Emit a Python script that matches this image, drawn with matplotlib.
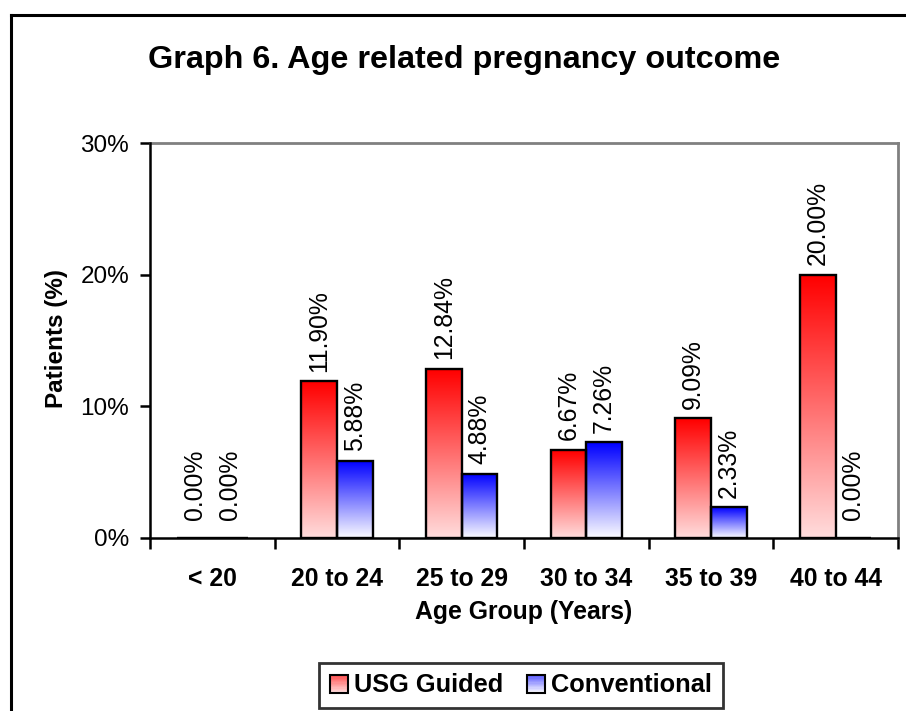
import numpy as np
import matplotlib
matplotlib.use("Agg")
import matplotlib.pyplot as plt
from matplotlib.patches import Rectangle, Patch
from matplotlib.lines import Line2D
from matplotlib.legend_handler import HandlerBase
from matplotlib.ticker import FuncFormatter, FixedLocator

plt.rcParams['font.family'] = ['Liberation Sans', 'DejaVu Sans']

categories = ['< 20', '20 to 24', '25 to 29', '30 to 34', '35 to 39', '40 to 44']
usg_guided = [0.00, 11.90, 12.84, 6.67, 9.09, 20.00]
conventional = [0.00, 5.88, 4.88, 7.26, 2.33, 0.00]
series_names = ['USG Guided', 'Conventional']
y_ticks = [0, 10, 20, 30]

RED_TOP = np.array([1.0, 0.0, 0.0])
RED_BOTTOM = np.array([1.0, 0.86, 0.86])
BLUE_TOP = np.array([0.0, 0.0, 1.0])
BLUE_BOTTOM = np.array([0.98, 0.98, 1.0])

W, H = 906, 711
fig = plt.figure(figsize=(W / 100, H / 100), dpi=100)
fig.patch.set_facecolor('white')

# outer chart border (left and top edges)
fig.add_artist(Line2D([11 / W, 11 / W], [0, 1 - 15 / H], color='black', lw=2.2,
                      transform=fig.transFigure))
fig.add_artist(Line2D([11 / W, 1.0], [1 - 15 / H, 1 - 15 / H], color='black', lw=2.2,
                      transform=fig.transFigure))

ax = fig.add_axes([150 / W, 1 - 538 / H, (898 - 150) / W, (538 - 143) / H])

x = np.arange(len(categories))
bw = 1 / 3.5

bars_usg = ax.bar(x - bw / 2, usg_guided, bw, facecolor='none', edgecolor='black',
                  linewidth=1.7, zorder=3)
bars_conv = ax.bar(x + bw / 2, conventional, bw, facecolor='none', edgecolor='black',
                   linewidth=1.7, zorder=3)


def fill_gradient(bars, top, bottom):
    n = 64
    t = np.linspace(0, 1, n)[:, None]
    grad = (bottom[None, :] * (1 - t) + top[None, :] * t)[:, None, :]
    for b in bars:
        h = b.get_height()
        if h <= 0:
            continue
        x0 = b.get_x()
        ax.imshow(grad, extent=[x0, x0 + b.get_width(), 0, h], origin='lower',
                  aspect='auto', interpolation='bilinear', zorder=2)


fill_gradient(bars_usg, RED_TOP, RED_BOTTOM)
fill_gradient(bars_conv, BLUE_TOP, BLUE_BOTTOM)

for bars, vals in ((bars_usg, usg_guided), (bars_conv, conventional)):
    for b, v in zip(bars, vals):
        off = 13 if v == 0 else 7
        ax.annotate(f"{v:.2f}%", (b.get_x() + b.get_width() / 2, v),
                    xytext=(0, off), textcoords='offset points', rotation=90,
                    ha='center', va='bottom', fontsize=17.8, zorder=4)

ax.set_xlim(-0.5, len(categories) - 0.5)
ax.set_ylim(0, 30)

ax.xaxis.set_major_locator(FixedLocator(np.arange(len(categories) + 1) - 0.5))
ax.xaxis.set_minor_locator(FixedLocator(x))
ax.set_xticklabels([], minor=False)
ax.set_xticklabels(categories, minor=True, fontweight='bold', fontsize=17.8)
ax.tick_params(axis='x', which='major', direction='out', length=8, width=1.8, color='black')
ax.tick_params(axis='x', which='minor', length=0, pad=21)

ax.set_yticks(y_ticks)
ax.yaxis.set_major_formatter(FuncFormatter(lambda v, p: f"{int(v)}%"))
ax.tick_params(axis='y', direction='out', length=7, width=1.8, color='black',
               labelsize=17.5, pad=8)

for side in ('left', 'bottom'):
    ax.spines[side].set_color('black')
    ax.spines[side].set_linewidth(1.8)
    ax.spines[side].set_zorder(5)
for side in ('top', 'right'):
    ax.spines[side].set_color('#808080')
    ax.spines[side].set_linewidth(2)

fig.text(464 / W, 1 - 60 / H, 'Graph 6. Age related pregnancy outcome',
         ha='center', va='center', fontsize=23.3, fontweight='bold')
fig.text(56 / W, 1 - 338 / H, 'Patients (%)', rotation=90, ha='center', va='center',
         fontsize=17.5, fontweight='bold')
fig.text(524 / W, 1 - 612 / H, 'Age Group (Years)', ha='center', va='center',
         fontsize=17.8, fontweight='bold')


class GradientHandler(HandlerBase):
    def __init__(self, top, bottom, n=14):
        super().__init__()
        self.top = 0.65 * top + 0.35 * bottom
        self.bottom = bottom
        self.n = n

    def create_artists(self, legend, orig_handle, xdescent, ydescent, width, height,
                       fontsize, trans):
        arts = []
        for i in range(self.n):
            f = (i + 0.5) / self.n
            c = np.clip(self.bottom * (1 - f) + self.top * f, 0, 1)
            arts.append(Rectangle((-xdescent, -ydescent + i * height / self.n), width,
                                  height / self.n, facecolor=c, edgecolor='none',
                                  transform=trans))
        arts.append(Rectangle((-xdescent, -ydescent), width, height, facecolor='none',
                              edgecolor='black', lw=1.5, transform=trans))
        return arts


h_usg = Patch(label=series_names[0])
h_conv = Patch(label=series_names[1])
leg = fig.legend([h_usg, h_conv], series_names, loc='center',
                 bbox_to_anchor=(521 / W, 1 - 685.5 / H), ncol=2,
                 handler_map={h_usg: GradientHandler(RED_TOP, RED_BOTTOM),
                              h_conv: GradientHandler(BLUE_TOP, BLUE_BOTTOM)},
                 prop={'weight': 'bold', 'size': 18.3}, frameon=True, fancybox=False,
                 edgecolor='black', handlelength=0.7, handleheight=0.7,
                 handletextpad=0.25, columnspacing=0.95, borderpad=0.42,
                 borderaxespad=0)
leg.get_frame().set_linewidth(2)

fig.savefig('out.png', dpi=100)
